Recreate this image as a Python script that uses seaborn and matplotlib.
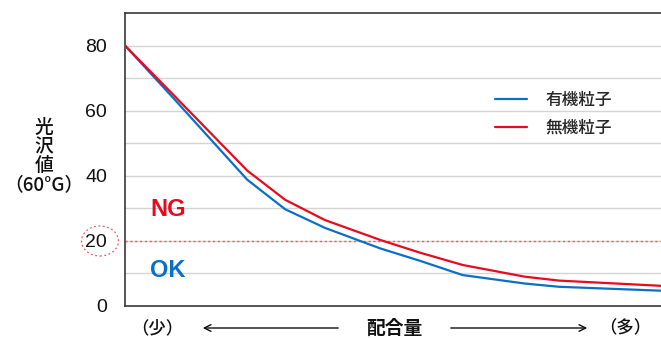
import matplotlib
matplotlib.use("Agg")
import matplotlib.pyplot as plt
from matplotlib.patches import Ellipse, FancyArrowPatch
import seaborn as sns
import pandas as pd

# 配合量 (relative scale, 0 = 少, 100 = 多)
amount = [0, 9, 22.8, 29.9, 37.3, 47.6, 55, 63, 74.6, 81, 100]
organic = [80, 63.9, 38.8, 29.7, 24.0, 17.7, 13.9, 9.5, 6.9, 5.9, 4.7]    # 有機粒子
inorganic = [80, 64.9, 41.6, 32.6, 26.4, 20.3, 16.4, 12.6, 9.0, 7.8, 6.2]  # 無機粒子
series_names = ["有機粒子", "無機粒子"]
y_ticks = [0, 20, 40, 60, 80]
threshold = 20

BLUE = "#0a70c6"
RED = "#e60b1f"

df = pd.concat([
    pd.DataFrame({"配合量": amount, "光沢値": organic, "種類": series_names[0]}),
    pd.DataFrame({"配合量": amount, "光沢値": inorganic, "種類": series_names[1]}),
])

sns.set_style("white")
plt.rcParams["font.family"] = ["Noto Sans CJK JP", "DejaVu Sans"]

fig = plt.figure(figsize=(6.61, 3.38), dpi=100)
ax = fig.add_axes([125 / 661, 32 / 338, 1 - 125 / 661, 293 / 338])

# light horizontal grid every 10
for yv in range(10, 90, 10):
    ax.axhline(yv, color="#d4d4d4", lw=1.0, zorder=0)

sns.lineplot(data=df, x="配合量", y="光沢値", hue="種類",
             palette=[BLUE, RED], hue_order=series_names,
             linewidth=1.6, ax=ax, legend=False, zorder=3)

# NG / OK boundary
ax.axhline(threshold, color="#ef5a64", lw=1.0, ls=(0, (1.5, 2)), zorder=2)

ax.set_xlim(0, 100)
ax.set_ylim(0, 90)
ax.set_xticks([])
ax.set_yticks(y_ticks)
ax.set_yticklabels([str(v) for v in y_ticks], family="Liberation Sans",
                   fontsize=14, color="#111111")
ax.tick_params(axis="y", length=0, pad=13)
ax.set_xlabel("")
ax.set_ylabel("")

for side in ["left", "top", "bottom"]:
    ax.spines[side].set_color("#3a3a3a")
    ax.spines[side].set_linewidth(1.2)
ax.spines["right"].set_visible(False)

# dashed ring around the 20 tick label
ring = Ellipse((100 / 661, 1 - 241 / 338), 37 / 661, 30 / 338,
               transform=fig.transFigure, fill=False, ec="#ef5a64",
               lw=0.9, ls=(0, (1.5, 2)))
fig.patches.append(ring)

ax.text(8, 29.5, "NG", color=RED, fontsize=17, fontweight="bold",
        family="Liberation Sans", ha="center", va="center")
ax.text(8, 11, "OK", color=BLUE, fontsize=17, fontweight="bold",
        family="Liberation Sans", ha="center", va="center")

# legend
handles = [plt.Line2D([], [], color=BLUE, lw=1.6),
           plt.Line2D([], [], color=RED, lw=1.6)]
leg = ax.legend(handles, series_names, loc="upper left",
                bbox_to_anchor=(480 / 661, 1 - 76 / 338), bbox_transform=fig.transFigure,
                frameon=False, prop={"size": 12, "weight": "medium"},
                handlelength=1.9, handletextpad=1.1, labelspacing=0.6)

# y-axis title
fig.text(44 / 661, 1 - 156 / 338, "光\n沢\n値\n（60°G）", ha="center", va="center",
         fontsize=13.5, fontweight="medium", linespacing=1.0, color="#111111")

# x-axis title with arrows
yb = 1 - 328 / 338
fig.text(157 / 661, yb, "（少）", ha="center", va="center", fontsize=12.5,
         fontweight="medium", color="#111111")
fig.text(394 / 661, yb, "配合量", ha="center", va="center", fontsize=13.5,
         fontweight="bold", color="#111111")
fig.text(625 / 661, yb, "（多）", ha="center", va="center", fontsize=12.5,
         fontweight="medium", color="#111111")
arrow_kw = dict(arrowstyle="->", color="#111111", lw=1.0, mutation_scale=12)
fig.add_artist(FancyArrowPatch((341 / 661, yb), (200 / 661, yb),
                               transform=fig.transFigure, **arrow_kw))
fig.add_artist(FancyArrowPatch((448 / 661, yb), (590 / 661, yb),
                               transform=fig.transFigure, **arrow_kw))

fig.savefig("out.png", dpi=100)
